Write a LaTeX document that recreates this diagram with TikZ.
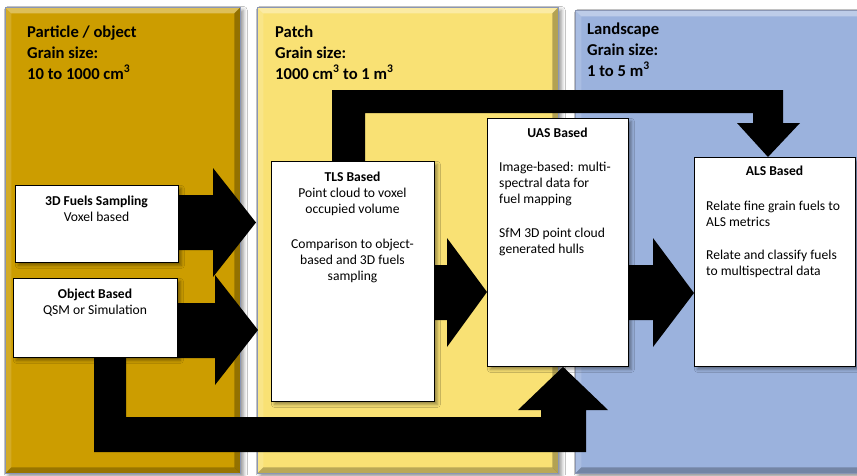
\documentclass[tikz,border=0pt]{standalone}
\usepackage{fontspec}
\setmainfont{Carlito}
\usetikzlibrary{shadows.blur,calc}
\definecolor{goldP}{HTML}{CC9D00}
\definecolor{yellowP}{HTML}{F9E174}
\definecolor{blueP}{HTML}{9BB2DD}
\definecolor{edgeP}{HTML}{8A96B4}
\tikzset{
  panel/.style={draw=edgeP, line width=0.6pt, inner sep=0pt, anchor=north west,
    blur shadow={shadow xshift=3pt, shadow yshift=-3pt, shadow blur radius=4pt, shadow opacity=45},
    path picture={
      \fill[white, opacity=0.35] (path picture bounding box.north west) -- (path picture bounding box.north east) -- ++(-6pt,-6pt) -- ($(path picture bounding box.north west)+(6pt,-6pt)$) -- cycle;
      \fill[white, opacity=0.15] (path picture bounding box.north west) -- (path picture bounding box.south west) -- ++(6pt,6pt) -- ($(path picture bounding box.north west)+(6pt,-6pt)$) -- cycle;
      \fill[black, opacity=0.28] (path picture bounding box.north east) -- (path picture bounding box.south east) -- ++(-6pt,6pt) -- ($(path picture bounding box.north east)+(-6pt,-6pt)$) -- cycle;
      \fill[black, opacity=0.25] (path picture bounding box.south west) -- (path picture bounding box.south east) -- ++(-6pt,6pt) -- ($(path picture bounding box.south west)+(6pt,6pt)$) -- cycle;
    }},
  box/.style={draw=black, line width=0.8pt, fill=white, inner sep=0pt, anchor=north west,
    blur shadow={shadow xshift=3pt, shadow yshift=-3pt, shadow blur radius=3pt, shadow opacity=40}},
  boxtext/.style={inner sep=0pt, anchor=north, align=center, font=\fontsize{13.6}{16}\selectfont},
  boxtextl/.style={inner sep=0pt, anchor=north west, align=left, font=\fontsize{13.6}{16}\selectfont},
  head/.style={inner sep=0pt, anchor=north west, align=left, font=\fontsize{16.6}{21}\selectfont\bfseries},
  blk/.style={fill=black},
}
\begin{document}
\begin{tikzpicture}[x=1pt,y=-1pt]
\useasboundingbox (0,0) rectangle (857,475);
\fill[white] (0,0) rectangle (857,475);

% panels
\node[panel, fill=goldP, minimum width=235pt, minimum height=466pt] (p1) at (5,7) {};
\node[panel, fill=yellowP, minimum width=301pt, minimum height=466pt] (p2) at (257,7) {};
\node[panel, fill=blueP, minimum width=290pt, minimum height=463pt] (p3) at (575,10) {};

\node[head] (h1) at (27,22.3) {\strut Particle / object\\Grain size:\\10 to 1000 cm\textsuperscript{3}};
\node[head] (h2) at (275,22.3) {\strut Patch\\Grain size:\\1000 cm\textsuperscript{3} to 1 m\textsuperscript{3}};
\node[head] (h3) at (587,19.3) {\strut Landscape\\Grain size:\\1 to 5 m\textsuperscript{3}};

% straight block arrows (drawn under boxes)
\fill[blk] (170,195) -- (213,195) -- (213,168) -- (256,222.5) -- (213,277) -- (213,250) -- (170,250) -- cycle;
\fill[blk] (170,303) -- (215,303) -- (215,275) -- (258,330) -- (215,385) -- (215,358) -- (170,358) -- cycle;
\fill[blk] (425,265) -- (447,265) -- (447,238) -- (487,292) -- (447,347) -- (447,320) -- (425,320) -- cycle;
\fill[blk] (620,265) -- (653,265) -- (653,238) -- (694,293) -- (653,347) -- (653,320) -- (620,320) -- cycle;

% boxes
\node[box, minimum width=163pt, minimum height=77pt] (fuels) at (15,185) {};
\node[box, minimum width=164pt, minimum height=79pt] (object) at (13,278) {};
\node[box, minimum width=163pt, minimum height=240pt] (tls) at (271,161) {};
\node[box, minimum width=141pt, minimum height=248pt] (uas) at (487,118) {};
\node[box, minimum width=161pt, minimum height=209pt] (als) at (694,157) {};

% elbow arrows
\fill[blk] (object.south -| 94,0) -- (94,452) -- (586,452) -- (586,410) -- (608,410) -- (uas.south -| 563,0) -- (518,410) -- (541,410) -- (541,417) -- (126,417) -- (object.south -| 126,0) -- cycle;
\fill[blk] (tls.north -| 332,0) -- (332,90) -- (783,90) -- (783,123) -- (800,123) -- (als.north -| 768,0) -- (737,123) -- (753,123) -- (753,113) -- (365,113) -- (tls.north -| 365,0) -- cycle;

% texts
\node[boxtext] (fuelsT) at (96.5,193.8) {\strut\textbf{3D Fuels Sampling}\\Voxel based};
\node[boxtext] (objectT) at (95,286.8) {\strut\textbf{Object Based}\\QSM or Simulation};
\node[boxtext] (tlsT) at (352.5,169.8) {\strut\textbf{TLS Based}\\Point cloud to voxel\\occupied volume\\[19pt]Comparison to object-\\based and 3D fuels\\sampling};
\node[boxtext] (uasH) at (557.5,125.8) {\strut\textbf{UAS Based}};
\node[boxtextl] (uasT) at (499,159.8) {\strut Image-based: multi-\\spectral data for\\fuel mapping\\[18pt]SfM 3D point cloud\\generated hulls};
\node[boxtext] (alsH) at (774.5,163.8) {\strut\textbf{ALS Based}};
\node[boxtextl] (alsT) at (706,198.8) {\strut Relate fine grain fuels to\\ALS metrics\\[17pt]Relate and classify fuels\\to multispectral data};
\end{tikzpicture}
\end{document}
